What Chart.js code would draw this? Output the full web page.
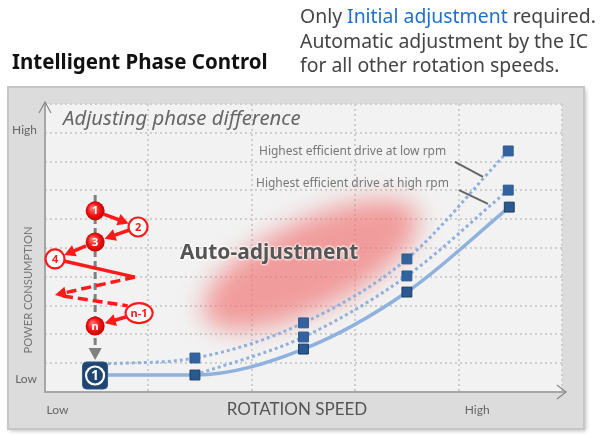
<!DOCTYPE html>
<html>
<head>
<meta charset="utf-8">
<script src="https://cdn.jsdelivr.net/npm/chart.js@4.4.1/dist/chart.umd.min.js"></script>
<style>
  html, body { margin: 0; padding: 0; background: #fff; }
  #wrap { position: relative; width: 608px; height: 434px; overflow: hidden; font-family: "Noto Sans", Lato, sans-serif; }
  #c { position: absolute; left: 0; top: 0; }
  .t { position: absolute; white-space: nowrap; }
  #title { left: 12px; top: 48px; font-size: 20.5px; line-height: 26px; font-weight: bold; color: #111; }
  #note { left: 300px; top: 4px; font-size: 19.4px; line-height: 24.5px; color: #444; }
  #note .blue { color: #1f6fd1; }
  #phase { left: 63px; top: 104px; font-size: 20.3px; line-height: 27px; font-style: italic; color: #666; }
  #auto { left: 180px; top: 237px; font-size: 21px; line-height: 28px; font-weight: bold; color: #555;
          text-shadow: 0 0 3px #fff, 0 0 3px #fff, 0 0 2px #fff; }
  .note2 { font-size: 12px; line-height: 16px; color: #777; }
  #lowrpm { left: 259px; top: 143px; }
  #highrpm { left: 256px; top: 175px; }
  #power { left: -42px; top: 282px; width: 140px; text-align: center; font-family: Lato, sans-serif; font-size: 11.2px; line-height: 16px; color: #777;
           transform: rotate(-90deg); }
</style>
</head>
<body>
<div id="wrap">
  <canvas id="c" width="608" height="434"></canvas>
  <div class="t" id="title">Intelligent Phase Control</div>
  <div class="t" id="note">Only <span class="blue">Initial adjustment</span> required.<br>Automatic adjustment by the IC<br>for all other rotation speeds.</div>
  <div class="t" id="phase">Adjusting phase difference</div>
  <div class="t" id="auto">Auto-adjustment</div>
  <div class="t note2" id="lowrpm">Highest efficient drive at low rpm</div>
  <div class="t note2" id="highrpm">Highest efficient drive at high rpm</div>
  <div class="t" id="power">POWER CONSUMPTION</div>
</div>
<script>
// axis ranges and tick labels
const xRange = [0, 5];
const yRange = [0, 10];
const xTickPos = [0.12, 4.18];
const xTickLabels = ['Low', 'High'];
const yTickPos = [0.45, 9.1];
const yTickLabels = ['Low', 'High'];

// solid curve (auto-adjusted by the IC)
const speedAuto = [0.5, 1.45, 2.5, 3.5, 4.49];
const powerAuto = [0.59, 0.59, 1.49, 3.47, 6.42];
// dotted: highest efficient drive at low rpm
const speedLowRpm = [0.55, 1.45, 2.5, 3.5, 4.48];
const powerLowRpm = [0.97, 1.18, 2.40, 4.62, 8.37];
// dotted: highest efficient drive at high rpm
const speedHighRpm = [1.45, 2.5, 3.5, 4.48];
const powerHighRpm = [0.59, 1.91, 4.03, 7.01];

const toPoints = (xs, ys) => xs.map((x, i) => ({ x: x, y: ys[i] }));
const lineBlue = '#8fb1de';

function arrow(ctx, x1, y1, x2, y2, head, dash) {
  const a = Math.atan2(y2 - y1, x2 - x1);
  const cos = Math.cos(a), sin = Math.sin(a);
  ctx.setLineDash(dash || []);
  ctx.beginPath();
  ctx.moveTo(x1, y1);
  ctx.lineTo(x2 - cos * head * 0.7, y2 - sin * head * 0.7);
  ctx.stroke();
  ctx.setLineDash([]);
  if (head) {
    const bx = x2 - cos * head, by = y2 - sin * head, w = head * 0.55;
    ctx.beginPath();
    ctx.moveTo(x2, y2);
    ctx.lineTo(bx - sin * w, by + cos * w);
    ctx.lineTo(bx + sin * w, by - cos * w);
    ctx.closePath();
    ctx.fill();
  }
}

const decor = {
  id: 'decor',
  beforeDraw(chart) {
    const { ctx, chartArea: a } = chart;
    ctx.save();
    // grey panel
    const L = a.left - 37, T = a.top - 17, R = a.right + 22, B = a.bottom + 37;
    ctx.shadowColor = 'rgba(0,0,0,0.25)';
    ctx.shadowBlur = 4;
    ctx.shadowOffsetX = 2;
    ctx.shadowOffsetY = 2;
    ctx.fillStyle = '#dcdcdc';
    ctx.fillRect(L, T, R - L, B - T);
    ctx.shadowColor = 'transparent';
    ctx.strokeStyle = '#c6c6c6';
    ctx.lineWidth = 2;
    ctx.strokeRect(L, T, R - L, B - T);
    // plot area
    ctx.fillStyle = '#f2f2f2';
    ctx.fillRect(a.left, a.top, a.right - a.left, a.bottom - a.top);
    ctx.restore();
  },
  beforeDatasetsDraw(chart) {
    const { ctx, scales: { x, y } } = chart;
    ctx.save();
    ctx.filter = 'blur(12px)';
    ctx.fillStyle = 'rgba(240,115,115,0.68)';
    ctx.beginPath();
    ctx.ellipse(x.getPixelForValue(2.57), y.getPixelForValue(4.42), 118, 44, -26 * Math.PI / 180, 0, Math.PI * 2);
    ctx.fill();
    ctx.restore();
  },
  afterDatasetsDraw(chart) {
    const { ctx, chartArea: a, scales: { x, y } } = chart;
    const P = (vx, vy) => [x.getPixelForValue(vx), y.getPixelForValue(vy)];
    ctx.save();

    // axes with open arrow heads
    ctx.strokeStyle = '#a6a6a6';
    ctx.lineWidth = 2;
    ctx.beginPath();
    ctx.moveTo(a.left, a.top - 2);
    ctx.lineTo(a.left, a.bottom);
    ctx.lineTo(a.right + 3, a.bottom);
    ctx.stroke();
    ctx.strokeStyle = '#888';
    ctx.lineWidth = 1.2;
    ctx.beginPath();
    ctx.moveTo(a.left - 6, a.top + 9);
    ctx.lineTo(a.left, a.top - 2);
    ctx.lineTo(a.left + 6, a.top + 9);
    ctx.moveTo(a.right - 5, a.bottom - 7);
    ctx.lineTo(a.right + 4, a.bottom);
    ctx.lineTo(a.right - 5, a.bottom + 7);
    ctx.stroke();

    // leader lines to the dotted curves
    ctx.strokeStyle = '#666';
    ctx.lineWidth = 2;
    [[[3.965, 7.99], [4.236, 7.47]], [[4.004, 7.01], [4.284, 6.53]]].forEach(([p, q]) => {
      const [x1, y1] = P(p[0], p[1]);
      const [x2, y2] = P(q[0], q[1]);
      ctx.beginPath();
      ctx.moveTo(x1, y1);
      ctx.lineTo(x2, y2);
      ctx.stroke();
    });

    // grey dashed arrow down to the initial point
    ctx.strokeStyle = '#808080';
    ctx.fillStyle = '#808080';
    ctx.lineWidth = 3;
    {
      const [x1, y1] = P(0.485, 6.84);
      const [x2, y2] = P(0.485, 1.11);
      arrow(ctx, x1, y1, x2, y2, 12, [7, 4]);
    }

    // red search path
    const red = '#ff1a1a';
    const marks = {
      s1: [0.485, 6.29], s2: [0.90, 5.73], s3: [0.485, 5.21], s4: [0.097, 4.62],
      sn1: [0.91, 2.74], sn: [0.485, 2.29]
    };
    const pt = k => P(marks[k][0], marks[k][1]);
    const edge = (p, q, r1, r2) => {
      const d = Math.hypot(q[0] - p[0], q[1] - p[1]);
      const ux = (q[0] - p[0]) / d, uy = (q[1] - p[1]) / d;
      return [p[0] + ux * r1, p[1] + uy * r1, q[0] - ux * r2, q[1] - uy * r2];
    };
    ctx.strokeStyle = red;
    ctx.fillStyle = red;
    ctx.lineWidth = 3.5;
    ctx.lineCap = 'butt';
    [['s1', 's2', 9, 10], ['s2', 's3', 10, 10], ['s3', 's4', 10, 10], ['sn1', 'sn', 12, 10]].forEach(([f, t, r1, r2]) => {
      const e = edge(pt(f), pt(t), r1, r2);
      arrow(ctx, e[0], e[1], e[2], e[3], 11);
    });
    {
      const p4 = pt('s4');
      const z1 = P(0.87, 3.99), z2 = P(0.097, 3.37), z3 = P(0.80, 2.99);
      const e = edge(p4, z1, 9, 0);
      ctx.beginPath();
      ctx.moveTo(e[0], e[1]);
      ctx.lineTo(z1[0], z1[1]);
      ctx.stroke();
      arrow(ctx, z1[0], z1[1], z2[0], z2[1], 11, [10, 5]);
      ctx.setLineDash([10, 5]);
      ctx.beginPath();
      ctx.moveTo(z2[0] + 8, z2[1] + 1);
      ctx.lineTo(z3[0], z3[1]);
      ctx.stroke();
      ctx.setLineDash([]);
    }
    const solidMark = (k, label) => {
      const [cx, cy] = pt(k);
      const g = ctx.createRadialGradient(cx - 3, cy - 3, 1, cx, cy, 10);
      g.addColorStop(0, '#ff7070');
      g.addColorStop(0.6, '#f01010');
      g.addColorStop(1, '#c00000');
      ctx.fillStyle = g;
      ctx.beginPath();
      ctx.arc(cx, cy, 9.5, 0, Math.PI * 2);
      ctx.fill();
      ctx.fillStyle = '#fff';
      ctx.font = 'bold 11px "Noto Sans", sans-serif';
      ctx.textAlign = 'center';
      ctx.textBaseline = 'middle';
      ctx.fillText(label, cx, cy + 0.5);
    };
    const openMark = (k, label, rx, ry) => {
      const [cx, cy] = pt(k);
      ctx.fillStyle = '#fff';
      ctx.strokeStyle = red;
      ctx.lineWidth = 2.2;
      ctx.beginPath();
      ctx.ellipse(cx, cy, rx, ry, 0, 0, Math.PI * 2);
      ctx.fill();
      ctx.stroke();
      ctx.fillStyle = red;
      ctx.font = 'bold 11px "Noto Sans", sans-serif';
      ctx.textAlign = 'center';
      ctx.textBaseline = 'middle';
      ctx.fillText(label, cx, cy + 0.5);
    };
    solidMark('s1', '1');
    openMark('s2', '2', 9.5, 9.5);
    solidMark('s3', '3');
    openMark('s4', '4', 9.5, 9.5);
    openMark('sn1', 'n-1', 13.5, 10);
    solidMark('sn', 'n');

    // initial adjustment point
    {
      const [cx, cy] = P(0.484, 0.573);
      const w = 25, h = 27;
      ctx.fillStyle = '#1f4570';
      ctx.strokeStyle = '#2f5a8a';
      ctx.lineWidth = 1;
      ctx.beginPath();
      ctx.roundRect(cx - w / 2, cy - h / 2, w, h, 4);
      ctx.fill();
      ctx.stroke();
      ctx.strokeStyle = '#fff';
      ctx.lineWidth = 2.2;
      ctx.beginPath();
      ctx.arc(cx, cy, 9, 0, Math.PI * 2);
      ctx.stroke();
      ctx.fillStyle = '#fff';
      ctx.font = 'bold 14px "Noto Sans", sans-serif';
      ctx.textAlign = 'center';
      ctx.textBaseline = 'middle';
      ctx.fillText('1', cx, cy + 1);
    }
    ctx.restore();
  }
};

const gridCommon = { color: '#cecece', lineWidth: 2, drawTicks: false };

new Chart(document.getElementById('c'), {
  type: 'line',
  data: {
    datasets: [
      {
        label: 'Auto-adjustment',
        data: toPoints(speedAuto, powerAuto),
        borderColor: lineBlue,
        borderWidth: 3.5,
        cubicInterpolationMode: 'monotone',
        pointStyle: 'rect',
        pointRadius: [0, 7, 7, 7, 7],
        pointBackgroundColor: '#2a5890',
        pointBorderColor: '#1c3d66',
        pointBorderWidth: 1
      },
      {
        label: 'Highest efficient drive at high rpm',
        data: toPoints(speedHighRpm, powerHighRpm),
        borderColor: lineBlue,
        borderWidth: 3,
        borderDash: [3, 3],
        cubicInterpolationMode: 'monotone',
        pointStyle: 'rect',
        pointRadius: [0, 7, 7, 7],
        pointBackgroundColor: '#33639f',
        pointBorderColor: '#2d5a91',
        pointBorderWidth: 1
      },
      {
        label: 'Highest efficient drive at low rpm',
        data: toPoints(speedLowRpm, powerLowRpm),
        borderColor: lineBlue,
        borderWidth: 3,
        borderDash: [3, 3],
        cubicInterpolationMode: 'monotone',
        pointStyle: 'rect',
        pointRadius: [0, 7, 7, 7, 7],
        pointBackgroundColor: '#33639f',
        pointBorderColor: '#2d5a91',
        pointBorderWidth: 1
      }
    ]
  },
  options: {
    responsive: false,
    animation: false,
    devicePixelRatio: 1,
    layout: { padding: { left: 8, top: 104, right: 46, bottom: 0 } },
    plugins: { legend: { display: false }, tooltip: { enabled: false } },
    scales: {
      x: {
        type: 'linear', min: xRange[0], max: xRange[1],
        ticks: { display: false, stepSize: 1 },
        grid: gridCommon,
        border: { display: false, dash: [2, 3] },
        afterFit: s => { s.height = 0; }
      },
      y: {
        type: 'linear', min: yRange[0], max: yRange[1],
        ticks: { display: false, stepSize: 1 },
        grid: gridCommon,
        border: { display: false, dash: [2, 3] },
        afterFit: s => { s.width = 0; }
      },
      xl: {
        type: 'linear', position: 'bottom', min: xRange[0], max: xRange[1],
        grid: { display: false, drawTicks: false },
        border: { display: false },
        afterBuildTicks: s => { s.ticks = xTickPos.map(v => ({ value: v })); },
        ticks: {
          autoSkip: false, maxRotation: 0, padding: 11, color: '#666',
          font: { family: 'Lato', size: 12 },
          callback: (v, i) => xTickLabels[i]
        },
        title: {
          display: true, text: 'ROTATION SPEED   ', color: '#555',
          font: { family: 'Lato', size: 17 }, padding: { top: 0, bottom: 14 }
        },
        afterFit: s => { s.height = 42; }
      },
      yl: {
        type: 'linear', position: 'left', min: yRange[0], max: yRange[1],
        grid: { display: false, drawTicks: false },
        border: { display: false },
        afterBuildTicks: s => { s.ticks = yTickPos.map(v => ({ value: v })); },
        ticks: {
          autoSkip: false, padding: 8, color: '#666',
          font: { family: 'Lato', size: 12 },
          callback: (v, i) => yTickLabels[i]
        },
        afterFit: s => { s.width = 37; }
      }
    }
  },
  plugins: [decor]
});
</script>
</body>
</html>
